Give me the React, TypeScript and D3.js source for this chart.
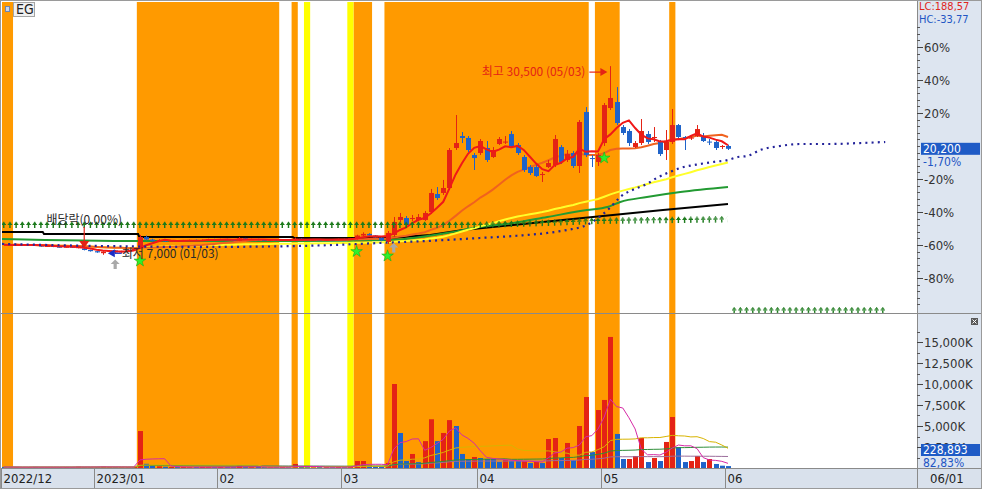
import React from 'react';
import * as d3 from 'd3';

// bar index 0 = 2023-01-02, 102 = 2023-06-01 (trading days)
const FIRST_INDEX = -15;

// [open, high, low, close]
const candles: [number, number, number, number][] = [
  [8350, 8400, 8200, 8250], [8300, 8380, 8150, 8200], [8200, 8320, 8150, 8280], [8280, 8330, 8150, 8180],
  [8180, 8300, 8120, 8240], [8240, 8280, 8100, 8150], [8150, 8200, 8000, 8050], [8050, 8150, 8000, 8100],
  [8100, 8150, 7950, 8000], [8000, 8080, 7900, 7950], [7950, 8050, 7900, 8000], [8000, 8050, 7850, 7900],
  [7900, 8000, 7800, 7950], [7800, 7850, 7550, 7600], [7600, 7650, 7400, 7450],
  // 2023/01
  [7450, 7500, 7250, 7300], [7200, 7450, 7000, 7400], [7400, 7600, 7350, 7550], [7550, 7600, 7150, 7300],
  [7300, 7500, 7250, 7450], [7450, 7600, 7400, 7550], [7550, 7850, 7500, 7800], [7850, 9470, 7720, 9220],
  [9200, 9400, 8800, 8900], [8900, 9000, 8650, 8700], [8700, 8950, 8650, 8850], [8850, 8900, 8600, 8650],
  [8650, 8800, 8600, 8750], [8750, 8800, 8600, 8650], [8650, 8850, 8600, 8800], [8800, 8900, 8700, 8850],
  [8850, 8900, 8700, 8750], [8750, 8900, 8700, 8850], [8850, 9000, 8800, 8950], [8950, 9000, 8800, 8850],
  // 02
  [8850, 9000, 8800, 8950], [8950, 9000, 8800, 8850], [8850, 8900, 8700, 8750], [8750, 9200, 8700, 9050],
  [9050, 9100, 8850, 8900], [8900, 9000, 8850, 8950], [8950, 9000, 8800, 8850], [8850, 8900, 8750, 8800],
  [8800, 8950, 8750, 8900], [8900, 8950, 8750, 8800], [8800, 8900, 8750, 8850], [8850, 8900, 8750, 8800],
  [8800, 9150, 8750, 9000], [9000, 9050, 8850, 8900], [8900, 8950, 8800, 8850], [8850, 8950, 8800, 8900],
  [8900, 8950, 8800, 8850], [8850, 8950, 8800, 8900], [8900, 8950, 8800, 8850], [8850, 9000, 8800, 8950],
  // 03
  [8950, 9000, 8850, 8900], [8900, 9100, 8850, 9050], [9050, 9500, 8900, 9400], [9400, 9800, 9300, 9600],
  [9600, 9700, 9350, 9400], [9400, 9450, 9100, 9150], [9150, 9200, 8700, 8800], [8600, 9960, 8350, 9720],
  [9470, 11710, 9220, 11080], [11340, 12210, 11080, 11710], [11580, 11830, 10460, 10710], [11460, 11960, 11210, 11580],
  [11340, 12080, 11210, 11710], [11340, 12460, 11210, 12210], [12330, 15200, 12080, 14700], [14570, 15440, 13830, 14070],
  [14700, 16320, 14450, 15320], [15320, 20300, 15070, 20050], [20300, 24410, 20050, 20920], [21790, 22290, 20920, 21550],
  [21550, 21790, 19800, 20050], [19430, 19680, 17560, 19050],
  // 04
  [19680, 21420, 19430, 21170], [20300, 21170, 18560, 18810], [19180, 20420, 19050, 20050], [20800, 21670, 20670, 21420],
  [21000, 21790, 20800, 21100], [22040, 22420, 20420, 20550], [20670, 20920, 19430, 19680], [19180, 19430, 17310, 17560],
  [17930, 18180, 16940, 17190], [17930, 18430, 16690, 16810], [16940, 17310, 16070, 17060], [17930, 18810, 17810, 18430],
  [18180, 21920, 17930, 21420], [20420, 20670, 18310, 18560], [18810, 20050, 18560, 19550], [19680, 19930, 17810, 18060],
  [18060, 23790, 17190, 23540], [24780, 25400, 19180, 19430], [19050, 19430, 17930, 18930], [18560, 19680, 18060, 19430],
  // 05
  [20920, 25900, 20550, 25650], [25280, 30500, 25030, 26530], [26030, 27890, 23160, 23410], [22910, 23160, 21920, 22170],
  [22420, 22670, 20550, 20920], [20420, 21170, 20300, 20920], [20920, 23910, 20670, 22420], [22040, 22420, 20800, 21050],
  [21550, 22910, 21050, 21670], [21050, 21300, 19300, 19550], [20050, 22540, 18810, 21050], [21050, 25160, 20800, 23160],
  [23160, 23290, 21550, 21670], [21670, 21790, 20050, 21550], [21500, 21790, 21300, 21600], [21790, 23160, 21670, 22660],
  [21790, 22170, 21050, 21170], [21100, 21420, 20670, 21000], [21050, 21300, 20050, 20300], [20450, 20670, 20170, 20550],
  // 06/01
  [20550, 20700, 20050, 20200],
];

// volume in thousand shares
const volumesK: number[] = [
  120, 90, 110, 80, 100, 130, 90, 110, 80, 100, 120, 90, 150, 110, 100,
  130, 160, 120, 110, 90, 100, 120,
  4400, 500, 250, 200, 150,
  120, 100, 110, 90, 100, 120, 100, 90, 110, 100, 90,
  280,
  100, 90, 110, 100, 90, 100, 110, 90,
  480,
  120, 100, 90, 110, 100, 90, 110, 100, 150,
  830, 830, 250, 150, 150,
  600, 10000, 4170, 830, 1670, 700, 3200, 5800, 3200, 4170,
  5700, 5000, 1670, 1070, 1310, 1190, 1070, 1070, 710, 950,
  830, 830, 830, 590, 710, 590, 3450, 3570, 1190, 2980,
  950, 5000, 8450, 1900, 6900, 8100, 15600, 4050, 1070, 1070,
  1430, 3570, 710, 1190, 830, 3100, 6070, 2500, 710, 830,
  1430, 710, 1070, 480, 276.34, 228.893,
];
// r = rising (red), b = falling (blue)
const volumeSides = [
  'bbrbrbbrbbrbrbb', 'brrbrrr', 'rbbrb', 'rbrrbrrbrbb', 'r', 'brbbrbrb', 'r', 'bbrbrbrbr', 'rrbbb',
  'rrbbrbrrbr', 'rbbbrbbbbr', 'bbrbrbrrbr', 'brrbrrrbbr', 'rrbrbrrbbr', 'rbrbbb',
].join('');

// long moving averages: [bar index, price]
const ma120Knots: [number, number][] = [
  [-15.3, 8970], [7, 8720], [33, 8720], [47.4, 8850], [56.6, 9720], [61.9, 10460], [67.3, 10960],
  [72.8, 11710], [79.2, 12580], [82.5, 12950], [84.6, 13580], [88.9, 14200], [94.3, 14820], [102, 15450],
];
const ma240Knots: [number, number][] = [
  [-15.3, 9840], [-8.7, 9840], [-8.5, 9590], [6.7, 9590], [6.9, 9220], [31.7, 9220], [31.9, 9095],
  [47.4, 9095], [53.9, 9470], [59.2, 10090], [67.3, 10710], [75.3, 11340], [83.4, 11960], [91.5, 12580], [102, 13330],
];
const leadingSpanKnots: [number, number][] = [
  [-15.3, 8350], [0.5, 8100], [16.7, 7975], [32.9, 8100], [45.8, 8470], [56.6, 8850], [61.9, 9095],
  [67.3, 9340], [72.8, 9720], [76, 10090], [79.2, 10710], [82.9, 12830], [84.6, 14200], [87.3, 15320],
  [88.9, 15820], [90.5, 16570], [92.6, 17310], [94.3, 17810], [97.5, 18310], [99.6, 18560], [102, 18810],
  [103.6, 19180], [105.1, 19300], [107.2, 20050], [110.4, 20550], [113.6, 20800], [118.5, 20800],
  [123.3, 20920], [127.4, 21050],
];
const signalRowKnots: [number, number][] = [[-15, 10650], [62, 10650], [73, 10900], [81, 11150], [102, 11340]];
const futureRowKnots: [number, number][] = [[103, 0], [128, 0]];

const orangeBands: [number, number][] = [[-17, -14], [7, 29], [32, 32], [42, 44], [47, 79], [81, 84], [93, 93]];
const yellowBands: [number, number][] = [[34, 34], [41, 41]];

const greenStarIdx = [7, 42, 47, 82];
const greyArrowIdx = [3, 48];

const monthLabels = ['2022/12', '2023/01', '02', '03', '04', '05', '06'];
const monthStartIdx = [-21, 0, 20, 40, 62, 82, 102];
const lastDateLabel = '06/01';
const pctTicks = [60, 40, 20, -20, -40, -60, -80];
const volTicks = [2500, 5000, 7500, 10000, 12500, 15000];
const exDivIdx = -2;
const exDivLabel = '배당락(0.00%)';
const lowDate = '01/03';
const highDate = '05/03';
const ticker = 'EG';

const RED = '#E42315';
const BLUE = '#1F63C9';
const ORANGE_BG = '#FF9A00';
const ARROW_GREEN = '#1C7A1C';
const AXIS_FONT = '"Liberation Sans Narrow","DejaVu Sans Condensed","Liberation Sans",Arial,sans-serif';
const KR_FONT = '"Noto Sans CJK KR","Noto Sans",sans-serif';

// arrow glyph layers: [vertical offset, layer thickness, layer width]
const arrowLayers: [number, number, number][] = [
  [-3.2, 1.2, 1.2], [-2.1, 1.1, 2.8], [-1.0, 1.1, 4.4], [0.6, 2.2, 1.4], [2.0, 1.0, 1.4],
];

export default function App() {
  const W = 982, H = 489;
  const L = 2, R = 917, PT = 2, PB = 313, VT = 315, VB = 468;
  const indices = candles.map((_, k) => FIRST_INDEX + k);
  const x = d3.scaleLinear().domain([0, 102]).range([96.6, 728]);
  const step = x(1) - x(0);
  const closes = candles.map(c => c[3]);
  const n = closes.length;
  const lastClose = closes[n - 1];
  const prevClose = closes[n - 2];
  const y = d3.scaleLinear().domain([0, prevClose]).range([311, 146]);
  const vy = d3.scaleLinear().domain([0, 15000]).range([468, 342]);

  const movingAvg = (arr: number[], len: number) =>
    arr.map((_, k) => d3.mean(arr.slice(Math.max(0, k - len + 1), k + 1)) as number);
  const pairs = (vals: number[]) => vals.map((v, k) => [indices[k], v] as [number, number]);

  const priceLine = d3.line<[number, number]>().x(d => x(d[0])).y(d => y(d[1]));
  const smoothLine = d3.line<[number, number]>().x(d => x(d[0])).y(d => y(d[1])).curve(d3.curveMonotoneX);
  const volLine = d3.line<[number, number]>().x(d => x(d[0])).y(d => vy(d[1]));

  const ma5 = pairs(movingAvg(closes, 5));
  const ma20 = pairs(movingAvg(closes, 20));
  const ma60 = pairs(movingAvg(closes, 60));
  const vma5 = pairs(movingAvg(volumesK, 5));
  const vma20 = pairs(movingAvg(volumesK, 20));
  const vma60 = pairs(movingAvg(volumesK, 60));
  const vma120 = pairs(movingAvg(volumesK, 120));

  const lowK = d3.minIndex(candles, c => c[2]);
  const highK = d3.maxIndex(candles, c => c[1]);
  const minLow = candles[lowK][2];
  const maxHigh = candles[highK][1];
  const fmt = d3.format(',');
  const dec = (v: number) => v.toFixed(2).replace('.', ',');
  const lc = (lastClose / minLow - 1) * 100;
  const hc = (lastClose / maxHigh - 1) * 100;
  const chg = (lastClose / prevClose - 1) * 100;
  const lastVol = volumesK[n - 1];
  const volRatio = (lastVol / volumesK[n - 2]) * 100;

  const starPath = d3.symbol(d3.symbolStar, 42)() as string;
  const upArrowPath = 'M0,-5 L4.5,-0.5 L1.6,-0.5 L1.6,4.5 L-1.6,4.5 L-1.6,-0.5 L-4.5,-0.5 Z';

  const minorPct = d3.range(-96, 92, 4);
  const minorVol = d3.range(1250, 17500, 1250);

  const lowX = x(indices[lowK]);
  const lowY = y(minLow);
  const highX = x(indices[highK]);
  const highY = y(maxHigh);
  const exX = x(exDivIdx);
  const exHighY = y(candles[exDivIdx - FIRST_INDEX][1]);

  const arrowRow = (knots: [number, number][], key: string) => {
    const d = priceLine(knots) as string;
    return (
      <g key={key}>
        {arrowLayers.map(([dy, th, w], k) => (
          <path key={k} d={d} transform={`translate(${-w / 2},${dy})`} fill="none" stroke={ARROW_GREEN}
            strokeWidth={th} strokeDasharray={`${w} ${step - w}`} />
        ))}
      </g>
    );
  };

  return (
    <div style={{ position: 'fixed', left: 0, top: 0 }}>
      <svg width={W} height={H} viewBox={`0 0 ${W} ${H}`} style={{ display: 'block', background: '#fff' }}>
        <defs>
          <clipPath id="plotClip"><rect x={L} y={PT} width={R - L} height={VB - PT} /></clipPath>
          <clipPath id="priceClip"><rect x={L} y={PT} width={R - L} height={PB - PT} /></clipPath>
          <clipPath id="volClip"><rect x={L} y={VT} width={R - L} height={VB - VT} /></clipPath>
        </defs>

        {/* background bands */}
        <g clipPath="url(#plotClip)">
          {orangeBands.map(([a, b], k) => (
            <rect key={'o' + k} x={x(a) - step / 2} y={PT} width={(b - a + 1) * step} height={VB - PT} fill={ORANGE_BG} />
          ))}
          {yellowBands.map(([a, b], k) => (
            <rect key={'y' + k} x={x(a) - step / 2} y={PT} width={(b - a + 1) * step} height={VB - PT} fill="#FFFF00" />
          ))}
        </g>

        {/* price panel */}
        <g clipPath="url(#priceClip)">
          <path d={priceLine(ma240Knots) as string} fill="none" stroke="#000" strokeWidth={2} />
          <path d={smoothLine(ma120Knots) as string} fill="none" stroke="#229A32" strokeWidth={2} />
          <path d={priceLine(ma60) as string} fill="none" stroke="#FFFF2A" strokeWidth={2} />
          <path d={priceLine(ma20) as string} fill="none" stroke="#F0621E" strokeWidth={2} />
          {candles.map((c, k) => {
            const [o, h, l, cl] = c;
            const col = cl >= o ? RED : BLUE;
            const cx = Math.round(x(indices[k])) + 0.5;
            const top = y(Math.max(o, cl));
            const bot = y(Math.min(o, cl));
            return (
              <g key={k}>
                <line x1={cx} x2={cx} y1={y(h)} y2={y(l)} stroke={col} strokeWidth={1} />
                <rect x={cx - 2.5} y={top} width={5} height={Math.max(1, bot - top)} fill={col} />
              </g>
            );
          })}
          <path d={priceLine(ma5) as string} fill="none" stroke="#F01818" strokeWidth={2} />
          <path d={smoothLine(leadingSpanKnots) as string} fill="none" stroke="#23239A" strokeWidth={2.2}
            strokeDasharray={`2 ${step - 2}`} />
          {arrowRow(signalRowKnots, 'sig')}
          {arrowRow(futureRowKnots, 'fut')}

          {greenStarIdx.map(i => (
            <path key={'s' + i} d={starPath}
              transform={`translate(${x(i)},${y(candles[i - FIRST_INDEX][2]) + 12})`}
              fill="#2EF02E" stroke="#18B018" strokeWidth={0.6} />
          ))}
          {greyArrowIdx.map(i => (
            <path key={'g' + i} d={upArrowPath}
              transform={`translate(${x(i)},${y(candles[i - FIRST_INDEX][2]) + 11})`} fill="#A9A9A9" />
          ))}

          {/* ex-dividend marker */}
          <text x={exX} y={224} textAnchor="middle" fontFamily={KR_FONT} fontSize={12} fill="#2a2a2a">{exDivLabel}</text>
          <line x1={exX} x2={exX} y1={227} y2={exHighY - 4} stroke={RED} strokeWidth={1.2} />
          <path d={`M${exX - 5},${exHighY - 7} L${exX + 5},${exHighY - 7} L${exX},${exHighY} Z`} fill={RED} />

          {/* lowest */}
          <path d={`M${lowX + 5},${lowY - 1.5} L${lowX + 12},${lowY - 5.5} L${lowX + 12},${lowY + 2.5} Z`} fill="#1B2FC8" />
          <line x1={lowX + 12} x2={lowX + 19} y1={lowY - 1.5} y2={lowY - 1.5} stroke="#1B2FC8" strokeWidth={1.2} />
          <text x={lowX + 19} y={lowY + 3} fontFamily={KR_FONT} fontSize={12} fill="#2a2a2a">
            {`최저 ${fmt(minLow)} (${lowDate})`}
          </text>

          {/* highest */}
          <text x={highX - 25} y={highY + 10} textAnchor="end" fontFamily={KR_FONT} fontSize={12} fill={RED}>
            {`최고 ${fmt(maxHigh)} (${highDate})`}
          </text>
          <line x1={highX - 21} x2={highX - 9} y1={highY + 6} y2={highY + 6} stroke={RED} strokeWidth={1.2} />
          <path d={`M${highX - 3},${highY + 6} L${highX - 10},${highY + 2} L${highX - 10},${highY + 10} Z`} fill={RED} />
        </g>

        {/* volume panel */}
        <g clipPath="url(#volClip)">
          {volumesK.map((v, k) => {
            const cx = Math.round(x(indices[k])) + 0.5;
            return (
              <rect key={k} x={cx - 2.5} y={vy(v)} width={5} height={Math.max(0.8, VB - vy(v))}
                fill={volumeSides[k] === 'r' ? RED : BLUE} />
            );
          })}
          <path d={volLine(vma120) as string} fill="none" stroke="#9C6E9C" strokeWidth={1} />
          <path d={volLine(vma60) as string} fill="none" stroke="#2F8F3A" strokeWidth={1} />
          <path d={volLine(vma20) as string} fill="none" stroke="#D8B400" strokeWidth={1} />
          <path d={volLine(vma5) as string} fill="none" stroke="#D62AA6" strokeWidth={1} />
        </g>

        {/* right axis */}
        <rect x={R + 0.5} y={0} width={W - R} height={VB} fill="#DDE5F0" />
        <line x1={R + 0.5} x2={R + 0.5} y1={0} y2={H} stroke="#8A8A8A" />
        {minorPct.map(p => {
          const yy = Math.round(y(prevClose * (1 + p / 100))) + 0.5;
          return yy > PT + 20 && yy < PB ? <line key={'mp' + p} x1={R} x2={R + 3} y1={yy} y2={yy} stroke="#555" /> : null;
        })}
        {pctTicks.map(p => {
          const yy = Math.round(y(prevClose * (1 + p / 100))) + 0.5;
          return (
            <g key={'p' + p}>
              <line x1={R} x2={R + 6} y1={yy} y2={yy} stroke="#444" />
              <text x={R + 7} y={yy + 4.5} fontFamily={AXIS_FONT} fontSize={13} fill="#333">{`${p}%`}</text>
            </g>
          );
        })}
        {minorVol.map(v => {
          const yy = Math.round(vy(v)) + 0.5;
          return yy > VT + 10 ? <line key={'mv' + v} x1={R} x2={R + 3} y1={yy} y2={yy} stroke="#555" /> : null;
        })}
        {volTicks.map(v => {
          const yy = Math.round(vy(v)) + 0.5;
          return (
            <g key={'v' + v}>
              <line x1={R} x2={R + 6} y1={yy} y2={yy} stroke="#444" />
              <text x={R + 7} y={yy + 4.5} fontFamily={AXIS_FONT} fontSize={13} fill="#333">{`${fmt(v)}K`}</text>
            </g>
          );
        })}
        <text x={R + 2} y={10} fontFamily={AXIS_FONT} fontSize={11} fill="#E0251B">{`LC:${dec(lc)}`}</text>
        <text x={R + 2} y={23} fontFamily={AXIS_FONT} fontSize={11} fill="#2255C4">{`HC:${dec(hc)}`}</text>
        <rect x={R + 4} y={y(lastClose) - 6} width={59} height={12} fill="#1F5BC6" />
        <text x={R + 6} y={y(lastClose) + 4} fontFamily={AXIS_FONT} fontSize={12} fill="#fff">{fmt(lastClose)}</text>
        <text x={R + 6} y={y(lastClose) + 17} fontFamily={AXIS_FONT} fontSize={12} fill="#2255C4">{`${dec(chg)}%`}</text>
        <rect x={R + 4} y={444} width={59} height={12} fill="#1F5BC6" />
        <text x={R + 6} y={454} fontFamily={AXIS_FONT} fontSize={12} fill="#fff">{fmt(Math.round(lastVol * 1000))}</text>
        <text x={R + 6} y={467} fontFamily={AXIS_FONT} fontSize={12} fill="#2255C4">{`${dec(volRatio)}%`}</text>
        <rect x={971} y={318} width={7} height={7} fill="#5a5a5a" />
        <path d="M972.5,319.5 L976.5,323.5 M976.5,319.5 L972.5,323.5" stroke="#fff" strokeWidth={1} />

        {/* panel separators */}
        <line x1={0} x2={W} y1={PB + 0.5} y2={PB + 0.5} stroke="#8A8A8A" />
        <line x1={0} x2={W} y1={VB + 0.5} y2={VB + 0.5} stroke="#8A8A8A" />

        {/* bottom date axis */}
        <rect x={0} y={VB + 1} width={W} height={H - VB - 1} fill="#D9E1EC" />
        {monthLabels.map((lab, k) => {
          const xx = Math.max(Math.round(x(monthStartIdx[k]) - step / 2) + 0.5, 1.5);
          return (
            <g key={lab}>
              <line x1={xx} x2={xx} y1={VB + 1} y2={H} stroke="#8A8A8A" />
              <text x={xx + 2} y={483} fontFamily={AXIS_FONT} fontSize={13} fill="#222">{lab}</text>
            </g>
          );
        })}
        <line x1={R + 0.5} x2={R + 0.5} y1={VB} y2={H} stroke="#8A8A8A" />
        <text x={R + 13} y={483} fontFamily={AXIS_FONT} fontSize={13} fill="#222">{lastDateLabel}</text>

        {/* title */}
        <rect x={5.5} y={6.5} width={4} height={5} fill="#C9D5EA" stroke="#6F86AE" />
        <rect x={13.5} y={2.5} width={21} height={14} fill="#F1F1F1" stroke="#A5A5A5" />
        <text x={16} y={14} fontFamily={AXIS_FONT} fontSize={14} fill="#222">{ticker}</text>

        {/* frame */}
        <rect x={0.5} y={0.5} width={W - 1} height={H - 1} fill="none" stroke="#9A9A9A" />
      </svg>
    </div>
  );
}
